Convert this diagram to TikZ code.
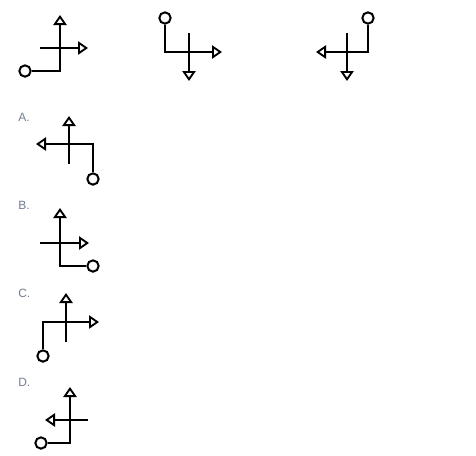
\documentclass[tikz,border=0pt]{standalone}
\usepackage{fontspec}
\setmainfont{Liberation Sans}
\usetikzlibrary{arrows.meta}
\definecolor{lbl}{RGB}{115,125,145}
\tikzset{
  ln/.style={line width=1.6pt},
  arr/.style={ln,-{Triangle[open,length=7.5pt,width=10pt,line width=1.4pt]}},
  knob/.style={draw,circle,line width=1.5pt,minimum size=8.5pt,inner sep=0pt},
  lab/.style={anchor=base west,inner sep=0pt,text=lbl,font=\fontsize{9pt}{11pt}\selectfont}
}
\begin{document}
\begin{tikzpicture}[x=0.75pt,y=-0.75pt]
\useasboundingbox (0,0) rectangle (476,455);
% figure 1
\node[knob] (c1) at (25,71) {};
\coordinate (k1) at (60,71); \coordinate (t1) at (60,15);
\coordinate (h1a) at (40,48); \coordinate (h1b) at (88,48);
\draw[arr] (c1) -- (k1) -- (t1);
\draw[arr] (h1a) -- (h1b);
% figure 2
\node[knob] (c2) at (165,18) {};
\coordinate (k2) at (165,52); \coordinate (r2) at (222,52);
\coordinate (v2a) at (189,33); \coordinate (v2b) at (189,81);
\draw[arr] (c2) -- (k2) -- (r2);
\draw[arr] (v2a) -- (v2b);
% figure 3
\node[knob] (c3) at (368,18) {};
\coordinate (k3) at (368,52); \coordinate (l3) at (316,52);
\coordinate (v3a) at (347,33); \coordinate (v3b) at (347,81);
\draw[arr] (c3) -- (k3) -- (l3);
\draw[arr] (v3a) -- (v3b);
% A
\node[lab] (la) at (18,121) {A.};
\node[knob] (ca) at (93,179) {};
\coordinate (ka) at (93,144); \coordinate (ea) at (36,144);
\coordinate (vaa) at (69,164); \coordinate (vab) at (69,116);
\draw[arr] (ca) -- (ka) -- (ea);
\draw[arr] (vaa) -- (vab);
% B
\node[lab] (lb) at (18,209) {B.};
\node[knob] (cb) at (93,266) {};
\coordinate (kb) at (60,266); \coordinate (tb) at (60,208);
\coordinate (hba) at (40,243); \coordinate (hbb) at (89,243);
\draw[arr] (cb) -- (kb) -- (tb);
\draw[arr] (hba) -- (hbb);
% C
\node[lab] (lc) at (18,297) {C.};
\node[knob] (cc) at (43,356) {};
\coordinate (kc) at (43,322); \coordinate (ec) at (99,322);
\coordinate (vca) at (66,342); \coordinate (vcb) at (66,293);
\draw[arr] (cc) -- (kc) -- (ec);
\draw[arr] (vca) -- (vcb);
% D
\node[lab] (ld) at (18,386) {D.};
\node[knob] (cd) at (41,443) {};
\coordinate (kd) at (70,443); \coordinate (td) at (70,387);
\coordinate (hda) at (88,420); \coordinate (hdb) at (45,420);
\draw[arr] (cd) -- (kd) -- (td);
\draw[arr] (hda) -- (hdb);
\end{tikzpicture}
\end{document}
